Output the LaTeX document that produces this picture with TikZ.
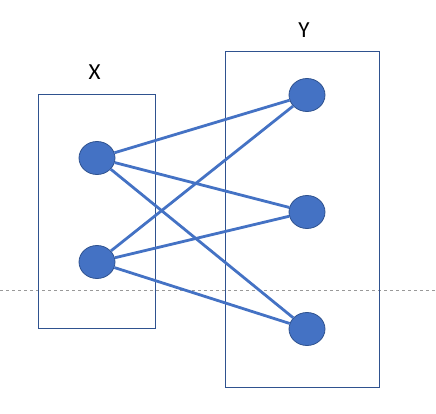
\documentclass[tikz,border=0pt]{standalone}
\usepackage{fontspec}
\setmainfont{Carlito}
\usepackage{xcolor}
\usetikzlibrary{shapes.geometric}
\definecolor{nodefill}{HTML}{4472C4}
\definecolor{nodeline}{HTML}{2F528F}
\begin{document}
\begin{tikzpicture}[x=1pt,y=-1pt,
  setbox/.style={draw=nodeline, line width=1pt},
  elem/.style={ellipse, fill=nodefill, draw=nodeline, line width=0.8pt, minimum width=36pt, minimum height=33pt, inner sep=0pt},
  link/.style={draw=nodefill, line width=2.8pt},
  setlabel/.style={font=\fontsize{23}{26}\selectfont}]
\useasboundingbox (0,0) rectangle (436,413);
% Dashed guide line
\draw[gray!80, dashed, line width=0.8pt] (0,290.5) -- (436,290.5);
% Set X
\draw[setbox] (38.5,94.5) rectangle (155.5,328);
\node[setlabel] (labx) at (94.5,72) {X};
\node[elem] (x1) at (97,158) {};
\node[elem] (x2) at (97,262) {};
% Set Y
\draw[setbox] (225.5,51.5) rectangle (379.5,387);
\node[setlabel] (laby) at (304,30) {Y};
\node[elem] (y1) at (307,95) {};
\node[elem] (y2) at (307,212) {};
\node[elem] (y3) at (307,329) {};
% Mapping X -> Y
\foreach \a in {x1,x2} {
  \foreach \b in {y1,y2,y3} {
    \draw[link] (\a) -- (\b);
  }
}
\end{tikzpicture}
\end{document}
